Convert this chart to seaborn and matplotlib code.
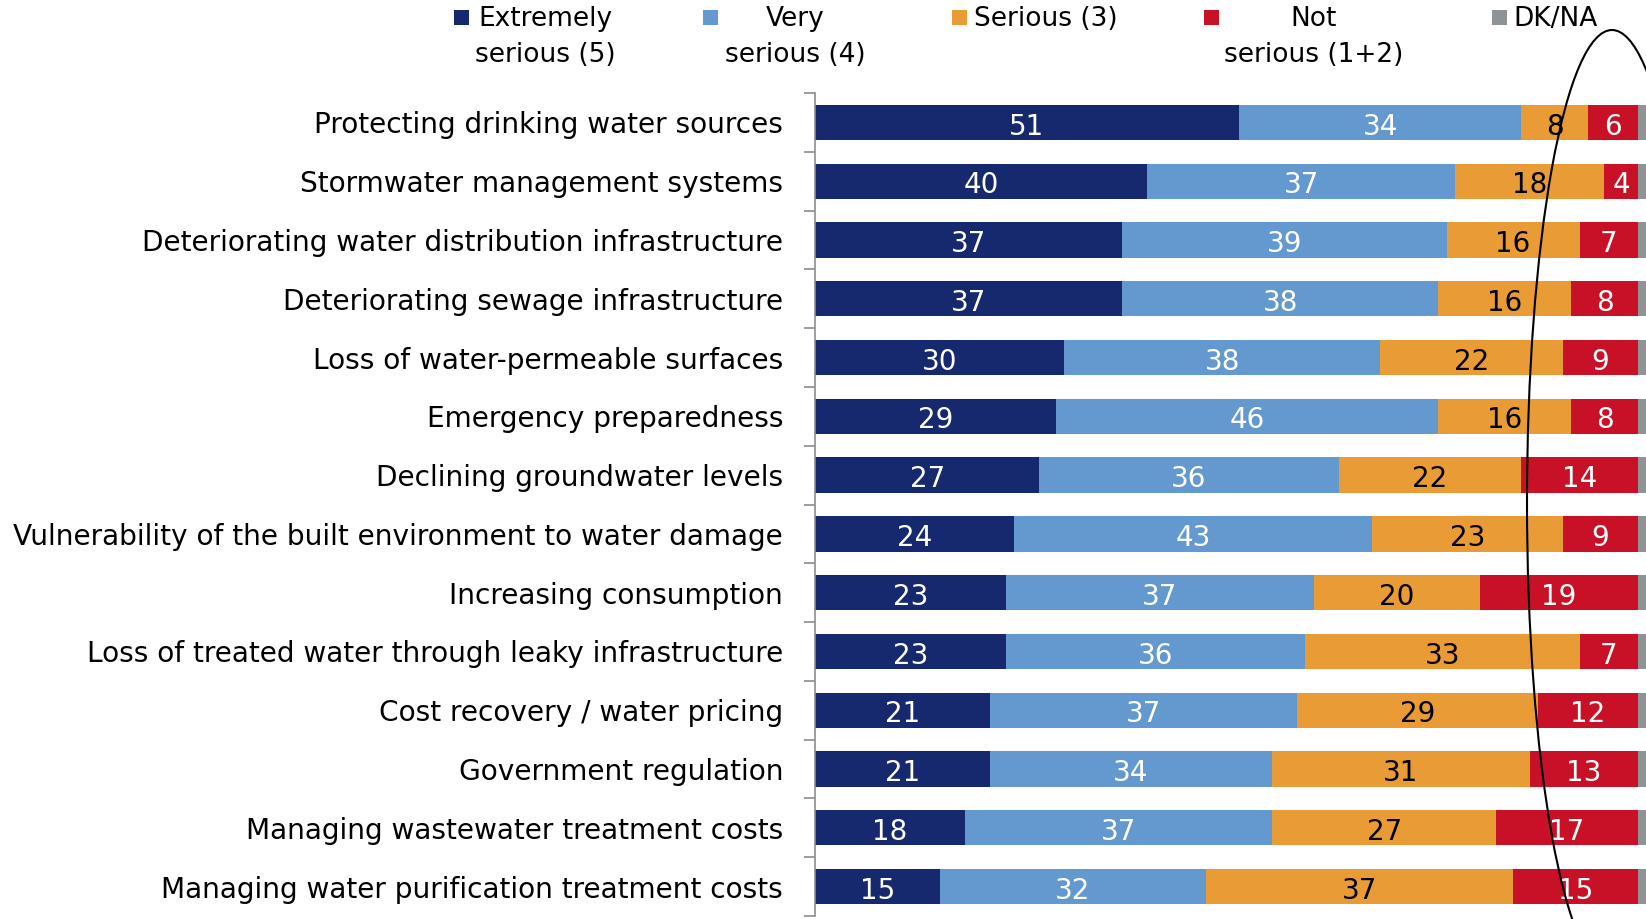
import numpy as np
import pandas as pd
import matplotlib
matplotlib.use('Agg')
import matplotlib.pyplot as plt
import seaborn as sns
from matplotlib.patches import Ellipse, Rectangle
from matplotlib.ticker import FixedLocator

# data
categories = [
    'Protecting drinking water sources',
    'Stormwater management systems',
    'Deteriorating water distribution infrastructure',
    'Deteriorating sewage infrastructure',
    'Loss of water-permeable surfaces',
    'Emergency preparedness',
    'Declining groundwater levels',
    'Vulnerability of the built environment to water damage',
    'Increasing consumption',
    'Loss of treated water through leaky infrastructure',
    'Cost recovery / water pricing',
    'Government regulation',
    'Managing wastewater treatment costs',
    'Managing water purification treatment costs',
]
extremely = [51, 40, 37, 37, 30, 29, 27, 24, 23, 23, 21, 21, 18, 15]
very = [34, 37, 39, 38, 38, 46, 36, 43, 37, 36, 37, 34, 37, 32]
serious = [8, 18, 16, 16, 22, 16, 22, 23, 20, 33, 29, 31, 27, 37]
not_serious = [6, 4, 7, 8, 9, 8, 14, 9, 19, 7, 12, 13, 17, 15]
dk_na = [1, 1, 1, 1, 1, 1, 1, 1, 1, 1, 1, 1, 1, 1]

series = ['Extremely', 'Very', 'Serious', 'Not', 'DKNA']
legend_labels = ['Extremely\nserious (5)', 'Very\nserious (4)', 'Serious (3)',
                 'Not\nserious (1+2)', 'DK/NA']
colors = ['#16286E', '#6399CF', '#E99C36', '#C81126', '#8E9496']
label_colors = ['white', 'white', 'black', 'white', None]

df = pd.DataFrame({'category': categories, 'Extremely': extremely, 'Very': very,
                   'Serious': serious, 'Not': not_serious, 'DKNA': dk_na})
cum = df[series].cumsum(axis=1)
cum['category'] = df['category']

sns.set_style('white')
plt.rcParams['font.family'] = ['DejaVu Sans']

W, H = 1646, 919
fig = plt.figure(figsize=(W / 100, H / 100), dpi=100)
ax = fig.add_axes([815 / W, 3 / H, 831 / W, 823 / H])

# stacked bars: draw cumulative totals from the largest down
for col, color in reversed(list(zip(series, colors))):
    sns.barplot(data=cum, x=col, y='category', order=categories, orient='h',
                color=color, saturation=1, width=0.6, linewidth=0, ax=ax)

# value labels in the middle of each segment
for i in range(len(categories)):
    for col, tc in zip(series, label_colors):
        if tc is None:
            continue
        v = df.loc[i, col]
        ax.text(cum.loc[i, col] - v / 2, i + 0.02, str(v), ha='center',
                va='center_baseline', color=tc, fontsize=20)

ax.set_xlim(0, 100)
ax.set_ylim(len(categories) - 0.5, -0.5)
ax.xaxis.set_visible(False)
ax.set_xlabel('')
ax.set_ylabel('')
for s in ['top', 'right', 'bottom']:
    ax.spines[s].set_visible(False)
ax.spines['left'].set_color('#8c8c8c')
ax.spines['left'].set_linewidth(1.2)
ax.yaxis.set_minor_locator(FixedLocator(np.arange(-0.5, len(categories), 1)))
ax.tick_params(axis='y', which='minor', left=True, length=8, width=1.2,
               color='#8c8c8c', direction='out')
ax.tick_params(axis='y', which='major', length=0, pad=23, labelsize=20.2,
               labelcolor='black')

# legend drawn by hand: square + centred wrapped text
sq = 15
sq_x = [461, 710, 959, 1211, 1499]
txt_x = [545, 795, 974, 1314, 1513]
txt_ha = ['center', 'center', 'left', 'center', 'left']
for cx, tx, ha, lab, color in zip(sq_x, txt_x, txt_ha, legend_labels, colors):
    fig.add_artist(Rectangle(((cx - sq / 2) / W, 1 - (17 + sq / 2) / H), sq / W, sq / H,
                             transform=fig.transFigure, color=color, lw=0))
    fig.text(tx / W, 1 - 6 / H, lab, ha=ha, va='top', multialignment='center',
             fontsize=19, linespacing=1.5, color='black')

# hand-drawn oval around the "not serious" column
fig.add_artist(Ellipse((1612 / W, 1 - 502 / H), 170 / W, 944 / H,
                       transform=fig.transFigure, fill=False, ec='black', lw=1.5))

fig.savefig('out.png', dpi=100)
